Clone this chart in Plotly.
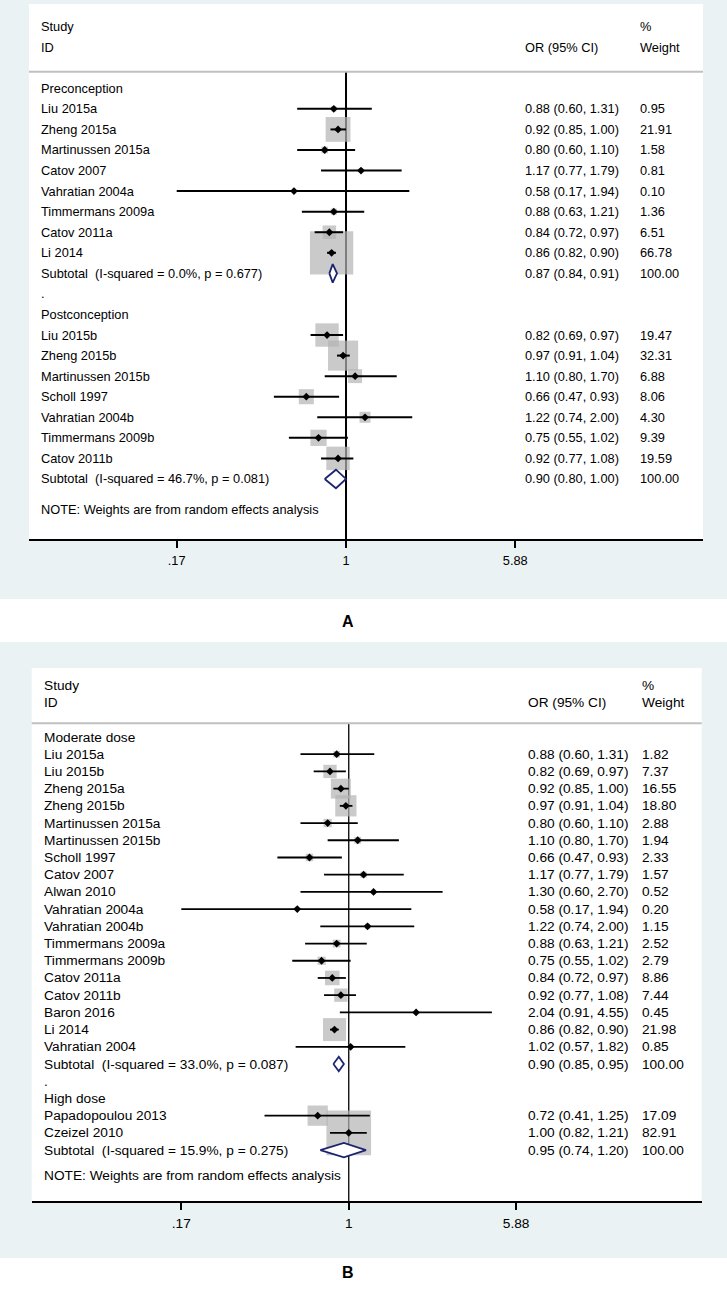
import math
import plotly.graph_objects as go

# Panel A - preconception / postconception
pre_studies = ["Liu 2015a", "Zheng 2015a", "Martinussen 2015a", "Catov 2007",
               "Vahratian 2004a", "Timmermans 2009a", "Catov 2011a", "Li 2014"]
pre_or = [0.88, 0.92, 0.80, 1.17, 0.58, 0.88, 0.84, 0.86]
pre_lo = [0.60, 0.85, 0.60, 0.77, 0.17, 0.63, 0.72, 0.82]
pre_hi = [1.31, 1.00, 1.10, 1.79, 1.94, 1.21, 0.97, 0.90]
pre_wt = [0.95, 21.91, 1.58, 0.81, 0.10, 1.36, 6.51, 66.78]
pre_sub = [0.87, 0.84, 0.91]
pre_het = ["0.0%", "0.677"]

post_studies = ["Liu 2015b", "Zheng 2015b", "Martinussen 2015b", "Scholl 1997",
                "Vahratian 2004b", "Timmermans 2009b", "Catov 2011b"]
post_or = [0.82, 0.97, 1.10, 0.66, 1.22, 0.75, 0.92]
post_lo = [0.69, 0.91, 0.80, 0.47, 0.74, 0.55, 0.77]
post_hi = [0.97, 1.04, 1.70, 0.93, 2.00, 1.02, 1.08]
post_wt = [19.47, 32.31, 6.88, 8.06, 4.30, 9.39, 19.59]
post_sub = [0.90, 0.80, 1.00]
post_het = ["46.7%", "0.081"]

# Panel B - moderate / high dose
mod_studies = ["Liu 2015a", "Liu 2015b", "Zheng 2015a", "Zheng 2015b", "Martinussen 2015a",
               "Martinussen 2015b", "Scholl 1997", "Catov 2007", "Alwan 2010", "Vahratian 2004a",
               "Vahratian 2004b", "Timmermans 2009a", "Timmermans 2009b", "Catov 2011a",
               "Catov 2011b", "Baron 2016", "Li 2014", "Vahratian 2004"]
mod_or = [0.88, 0.82, 0.92, 0.97, 0.80, 1.10, 0.66, 1.17, 1.30, 0.58, 1.22, 0.88, 0.75, 0.84, 0.92, 2.04, 0.86, 1.02]
mod_lo = [0.60, 0.69, 0.85, 0.91, 0.60, 0.80, 0.47, 0.77, 0.60, 0.17, 0.74, 0.63, 0.55, 0.72, 0.77, 0.91, 0.82, 0.57]
mod_hi = [1.31, 0.97, 1.00, 1.04, 1.10, 1.70, 0.93, 1.79, 2.70, 1.94, 2.00, 1.21, 1.02, 0.97, 1.08, 4.55, 0.90, 1.82]
mod_wt = [1.82, 7.37, 16.55, 18.80, 2.88, 1.94, 2.33, 1.57, 0.52, 0.20, 1.15, 2.52, 2.79, 8.86, 7.44, 0.45, 21.98, 0.85]
mod_sub = [0.90, 0.85, 0.95]
mod_het = ["33.0%", "0.087"]

high_studies = ["Papadopoulou 2013", "Czeizel 2010"]
high_or = [0.72, 1.00]
high_lo = [0.41, 0.82]
high_hi = [1.25, 1.21]
high_wt = [17.09, 82.91]
high_sub = [0.95, 0.74, 1.20]
high_het = ["15.9%", "0.275"]

tick_vals = [0.17, 1, 5.88]
tick_text = [".17", "1", "5.88"]

W, H = 727, 1312
FONT = "Liberation Sans, Arial, sans-serif"
BG = "#eaf2f3"
BOX = "#b4b4b4"
NAVY = "#1c2470"


def px_x(p):
    return p / W


def px_y(p):
    return 1 - p / H


fig = go.Figure()
shapes = []
annotations = []

# panel settings: groups, axis ids, pixel geometry
panels = [
    dict(groups=[("Preconception", pre_studies, pre_or, pre_lo, pre_hi, pre_wt, pre_sub, pre_het),
                 ("Postconception", post_studies, post_or, post_lo, post_hi, post_wt, post_sub, post_het)],
         xa="x", ya="y", bg=(0, 599), white=(29, 703, 4, 539), rows=(-4.1, 21.92),
         xr=(0.03623, 41.94), fs=12.8, k=5.3, dh=0.45, lw=2, vw=2,
         tx=(39, 523, 638), label="A", label_y=621),
    dict(groups=[("Moderate dose", mod_studies, mod_or, mod_lo, mod_hi, mod_wt, mod_sub, mod_het),
                 ("High dose", high_studies, high_or, high_lo, high_hi, high_wt, high_sub, high_het)],
         xa="x2", ya="y2", bg=(642, 1258), white=(31.7, 701.7, 668, 1201), rows=(-4.01, 26.96),
         xr=(0.0349, 41.9), fs=13.7, k=4.9, dh=0.42, lw=1.8, vw=1.3,
         tx=(41.7, 525.5, 639.5), label="B", label_y=1283),
]

for i, pn in enumerate(panels):
    sfx = "" if i == 0 else str(i + 1)
    xa, ya = pn["xa"], pn["ya"]
    fs = pn["fs"]
    x_lab, x_or, x_wt = [px_x(v) for v in pn["tx"]]

    # backgrounds
    shapes.append(dict(type="rect", xref="paper", yref="paper", x0=0, x1=1,
                       y0=px_y(pn["bg"][1]), y1=px_y(pn["bg"][0]),
                       fillcolor=BG, line_width=0, layer="below"))
    wl, wr, wt_, wb = pn["white"]
    shapes.append(dict(type="rect", xref="paper", yref="paper", x0=px_x(wl), x1=px_x(wr),
                       y0=px_y(wb), y1=px_y(wt_), fillcolor="white", line_width=0, layer="below"))

    def txt(x, y, s, xref="paper"):
        annotations.append(dict(x=x, y=y, xref=xref, yref=ya, text=s, showarrow=False,
                                xanchor="left", yanchor="middle",
                                font=dict(family=FONT, size=fs, color="black")))

    # header
    txt(x_lab, -3, "Study")
    txt(x_lab, -2, "ID")
    txt(x_or, -2, "OR (95% CI)")
    txt(x_wt, -3, "%")
    txt(x_wt, -2, "Weight")
    shapes.append(dict(type="line", xref=xa + " domain", yref=ya, x0=0, x1=1, y0=-0.8, y1=-0.8,
                       line=dict(color="#c0c0c0", width=2)))

    # rows
    sx, sy, ss = [], [], []
    ci_x, ci_y = [], []
    dia = []
    row = 0
    for g, (gname, studies, ors, los, his, wts, sub, het) in enumerate(pn["groups"]):
        if g > 0:
            txt(x_lab, row, ".")
            row += 1
        txt(x_lab, row, gname)
        row += 1
        for s, o, lo, hi, w in zip(studies, ors, los, his, wts):
            txt(x_lab, row, s)
            txt(x_or, row, f"{o:.2f} ({lo:.2f}, {hi:.2f})")
            txt(x_wt, row, f"{w:.2f}")
            sx.append(o)
            sy.append(row)
            ss.append(pn["k"] * math.sqrt(w))
            ci_x += [lo, hi, None]
            ci_y += [row, row, None]
            row += 1
        txt(x_lab, row, f"Subtotal\u00a0 (I-squared = {het[0]}, p = {het[1]})")
        txt(x_or, row, f"{sub[0]:.2f} ({sub[1]:.2f}, {sub[2]:.2f})")
        txt(x_wt, row, "100.00")
        dia.append((sub, row))
        row += 1
    note_row = row + 0.5
    txt(x_lab, note_row, "NOTE: Weights are from random effects analysis")

    # line of no effect
    fig.add_trace(go.Scatter(x=[1, 1], y=[-0.8, pn["rows"][1]], mode="lines", xaxis=xa, yaxis=ya,
                             line=dict(color="black", width=pn["vw"]), hoverinfo="skip", cliponaxis=False))
    # weight boxes
    fig.add_trace(go.Scatter(x=sx, y=sy, mode="markers", xaxis=xa, yaxis=ya,
                             marker=dict(symbol="square", size=ss, color=BOX, line_width=0),
                             hoverinfo="skip"))
    # confidence intervals
    fig.add_trace(go.Scatter(x=ci_x, y=ci_y, mode="lines", xaxis=xa, yaxis=ya,
                             line=dict(color="black", width=pn["lw"]), hoverinfo="skip"))
    # point estimates
    fig.add_trace(go.Scatter(x=sx, y=sy, mode="markers", xaxis=xa, yaxis=ya,
                             marker=dict(symbol="diamond", size=6, color="black"), hoverinfo="skip"))
    # subtotal diamonds
    for sub, r in dia:
        h = pn["dh"]
        fig.add_trace(go.Scatter(x=[sub[1], sub[0], sub[2], sub[0], sub[1]],
                                 y=[r, r - h, r, r + h, r], mode="lines", fill="toself",
                                 fillcolor="white", xaxis=xa, yaxis=ya,
                                 line=dict(color=NAVY, width=1.8), hoverinfo="skip"))

    lo_x, hi_x = pn["xr"]
    fig.update_layout(**{
        "xaxis" + sfx: dict(type="log", range=[math.log10(lo_x), math.log10(hi_x)],
                            domain=[px_x(wl), px_x(wr)], anchor=ya,
                            showline=True, linecolor="black", linewidth=2,
                            ticks="outside", ticklen=7, tickwidth=2, tickcolor="black",
                            tickvals=tick_vals, ticktext=tick_text, ticklabelstandoff=2,
                            showgrid=False, zeroline=False,
                            tickfont=dict(family=FONT, size=fs, color="black")),
        "yaxis" + sfx: dict(range=[pn["rows"][1], pn["rows"][0]], domain=[px_y(wb), px_y(wt_)],
                            anchor=xa, visible=False, showgrid=False, zeroline=False),
    })

    annotations.append(dict(x=px_x(348), y=px_y(pn["label_y"]), xref="paper", yref="paper",
                            text="<b>" + pn["label"] + "</b>", showarrow=False,
                            font=dict(family=FONT, size=16, color="black")))

fig.update_layout(width=W, height=H, margin=dict(l=0, r=0, t=0, b=0),
                  paper_bgcolor="white", plot_bgcolor="rgba(0,0,0,0)",
                  showlegend=False, shapes=shapes, annotations=annotations)

# page body margin would shift the fixed-size figure
fig.write_html("out.html", config={"displayModeBar": False},
               post_script="document.body.style.margin='0';document.body.style.overflow='hidden';")
